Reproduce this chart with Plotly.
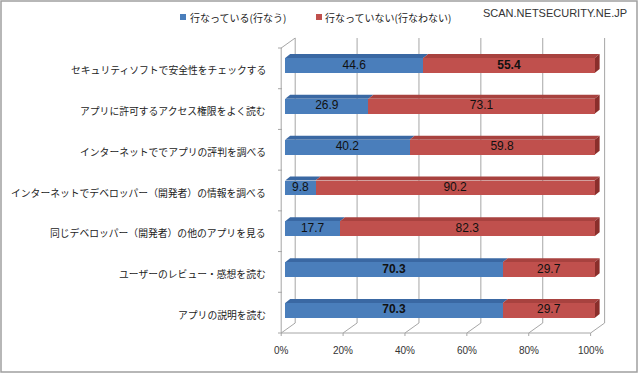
import plotly.graph_objects as go

# ---------------- data ----------------
categories = [
    "セキュリティソフトで安全性をチェックする",
    "アプリに許可するアクセス権限をよく読む",
    "インターネットででアプリの評判を調べる",
    "インターネットでデベロッパー（開発者）の情報を調べる",
    "同じデベロッパー（開発者）の他のアプリを見る",
    "ユーザーのレビュー・感想を読む",
    "アプリの説明を読む",
]
series_names = ["行なっている(行なう)", "行なっていない(行なわない)"]
doing = [44.6, 26.9, 40.2, 9.8, 17.7, 70.3, 70.3]
not_doing = [55.4, 73.1, 59.8, 90.2, 82.3, 29.7, 29.7]
bold_doing = [False, False, False, False, False, True, True]
bold_not = [True, False, False, False, False, False, False]
x_ticks = [0, 20, 40, 60, 80, 100]
x_tick_labels = ["0%", "20%", "40%", "60%", "80%", "100%"]
watermark = "SCAN.NETSECURITY.NE.JP"

# ---------------- style ----------------
W, H = 640, 375
SX0, SY0 = 279, 36          # plot-area top-left in screen pixels
PW, PH = 328, 300
ML, MT = SX0, SY0
MR, MB = W - ML - PW, H - MT - PH
XR = [-2, 104]
YR = [6.625, -0.723]
BLUE, BLUE_TOP = "#4A7EBB", "#3A68A3"
RED, RED_TOP, RED_SIDE = "#C0504D", "#A8423F", "#8A2E2B"
GRID = "#A6A6A6"
BAR_W = 0.367
xscale = PW / (XR[1] - XR[0])
DX = 5 / xscale          # depth offset of bar top (data units)
DY = 4 / (PH / (YR[0] - YR[1]))
FRONT = -4 / xscale      # front frame offset
BACK = 10 / xscale       # back wall offset


def px_x(px):
    return (px - SX0) / PW


def px_y(py):
    return (SY0 + PH - py) / PH


fig = go.Figure()
ypos = list(range(len(categories)))


def lab(v, b):
    s = f"{v:.1f}"
    return f"<b>{s}</b>" if b else s


fig.add_trace(go.Bar(
    y=ypos, x=doing, orientation="h", width=BAR_W, name=series_names[0],
    marker=dict(color=BLUE, line=dict(width=0)), showlegend=False, hoverinfo="skip",
))
fig.add_trace(go.Bar(
    y=ypos, x=not_doing, orientation="h", width=BAR_W, name=series_names[1],
    marker=dict(color=RED, line=dict(width=0)), showlegend=False, hoverinfo="skip",
))
fig.add_trace(go.Scatter(
    x=[v / 2 for v in doing] + [d + v / 2 for d, v in zip(doing, not_doing)],
    y=ypos + ypos, mode="text",
    text=[lab(v, b) for v, b in zip(doing, bold_doing)] + [lab(v, b) for v, b in zip(not_doing, bold_not)],
    textposition="middle center",
    textfont=dict(family="Liberation Sans", size=12, color="#111"),
    showlegend=False, hoverinfo="skip", cliponaxis=False,
))

shapes = []
yf_floor, yb_floor = px_y(333), px_y(323)
y_top_back, y_top_front = px_y(38), px_y(48)
line = dict(color=GRID, width=1)
for t in x_ticks:
    shapes.append(dict(type="line", xref="x", yref="paper", x0=t + BACK, x1=t + BACK,
                       y0=yb_floor, y1=y_top_back, line=line, layer="below"))
    shapes.append(dict(type="line", xref="x", yref="paper", x0=t + FRONT, x1=t + BACK,
                       y0=yf_floor, y1=yb_floor, line=line, layer="below"))
    shapes.append(dict(type="line", xref="x", yref="paper", x0=t + FRONT, x1=t + FRONT,
                       y0=yf_floor, y1=px_y(336), line=line, layer="below"))
shapes.append(dict(type="line", xref="x", yref="paper", x0=x_ticks[0] + FRONT, x1=x_ticks[-1] + FRONT,
                   y0=yf_floor, y1=yf_floor, line=line, layer="below"))
shapes.append(dict(type="line", xref="x", yref="paper", x0=FRONT, x1=FRONT,
                   y0=yf_floor, y1=y_top_front, line=line, layer="below"))
shapes.append(dict(type="line", xref="x", yref="paper", x0=FRONT, x1=BACK,
                   y0=y_top_front, y1=y_top_back, line=line, layer="below"))
n = len(categories)
for k in range(n + 1):
    yy = yf_floor + k * (y_top_front - yf_floor) / n
    shapes.append(dict(type="line", xref="paper", yref="paper", x0=px_x(278), x1=px_x(282),
                       y0=yy, y1=yy, line=line, layer="below"))

for i in ypos:
    yf = i - BAR_W / 2
    yb = yf - DY
    a, b = 0, doing[i]
    c = b + not_doing[i]
    shapes.append(dict(type="path", xref="x", yref="y", layer="below",
                       path=f"M {a},{yf} L {b},{yf} L {b + DX},{yb} L {a + DX},{yb} Z",
                       fillcolor=BLUE_TOP, line=dict(width=0)))
    shapes.append(dict(type="path", xref="x", yref="y", layer="below",
                       path=f"M {b},{yf} L {c},{yf} L {c + DX},{yb} L {b + DX},{yb} Z",
                       fillcolor=RED_TOP, line=dict(width=0)))
    shapes.append(dict(type="path", xref="x", yref="y", layer="below",
                       path=f"M {c},{yf} L {c + DX},{yb} L {c + DX},{yb + BAR_W} L {c},{yf + BAR_W} Z",
                       fillcolor=RED_SIDE, line=dict(width=0)))

shapes.append(dict(type="rect", xref="paper", yref="paper", x0=px_x(180), x1=px_x(186),
                   y0=px_y(20), y1=px_y(14), fillcolor=BLUE, line=dict(width=0)))
shapes.append(dict(type="rect", xref="paper", yref="paper", x0=px_x(316), x1=px_x(322),
                   y0=px_y(20), y1=px_y(14), fillcolor=RED, line=dict(width=0)))
shapes.append(dict(type="rect", xref="paper", yref="paper", x0=px_x(1), x1=px_x(637),
                   y0=px_y(372), y1=px_y(1), line=dict(color="#A0A0A0", width=1.5)))

annotations = []
jp = "Noto Sans CJK JP"
for i, c in enumerate(categories):
    annotations.append(dict(text=c, xref="paper", yref="y", x=px_x(268), y=i, yshift=-4.5,
                            xanchor="right", yanchor="middle", showarrow=False,
                            font=dict(family=jp, size=9.8, color="#222")))
for t, tl in zip(x_ticks, x_tick_labels):
    annotations.append(dict(text=tl, xref="x", yref="paper", x=t, xshift=-4, y=px_y(350),
                            xanchor="center", yanchor="middle", showarrow=False,
                            font=dict(family="Liberation Sans", size=10, color="#333")))
annotations.append(dict(text=series_names[0], xref="paper", yref="paper", x=px_x(188), y=px_y(17),
                        xanchor="left", yanchor="middle", showarrow=False,
                        font=dict(family=jp, size=10, color="#222")))
annotations.append(dict(text=series_names[1], xref="paper", yref="paper", x=px_x(323), y=px_y(17),
                        xanchor="left", yanchor="middle", showarrow=False,
                        font=dict(family=jp, size=10, color="#222")))
annotations.append(dict(text=watermark, xref="paper", yref="paper", x=px_x(629), y=px_y(13),
                        xanchor="right", yanchor="middle", showarrow=False,
                        font=dict(family="Liberation Sans", size=11, color="#333")))

fig.update_layout(
    width=W, height=H, margin=dict(l=ML, r=MR, t=MT, b=MB),
    paper_bgcolor="white", plot_bgcolor="white",
    barmode="stack", bargap=0, hovermode=False,
    xaxis=dict(range=XR, showgrid=False, zeroline=False, showticklabels=False, fixedrange=True),
    yaxis=dict(range=YR, showgrid=False, zeroline=False, showticklabels=False, fixedrange=True),
    shapes=shapes, annotations=annotations, showlegend=False,
)
fig.write_html("out.html", config={"displayModeBar": False, "staticPlot": True},
               post_script="document.body.style.margin='0';document.body.style.overflow='hidden';")
